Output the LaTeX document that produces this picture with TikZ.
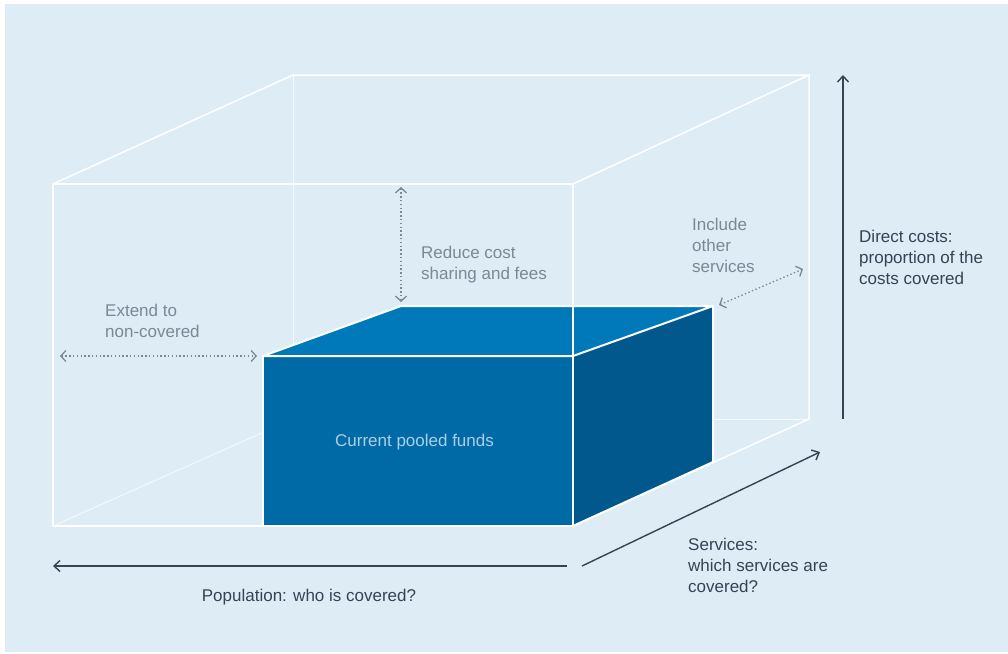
\documentclass[tikz,border=0pt]{standalone}
\usepackage{fontspec}
\setmainfont{Liberation Sans}
\usetikzlibrary{arrows.meta}
\definecolor{panel}{RGB}{222,236,246}
\definecolor{frontc}{RGB}{0,106,166}
\definecolor{topc}{RGB}{0,121,186}
\definecolor{sidec}{RGB}{0,88,141}
\definecolor{greyc}{RGB}{122,137,150}
\definecolor{darkc}{RGB}{52,68,84}
\definecolor{labc}{RGB}{172,206,230}
\tikzset{
  hid/.style={draw=white, line width=0.9pt, opacity=0.75},
  edge/.style={draw=white, line width=1.5pt, line join=round},
  boxedge/.style={draw=white, line width=2pt, line join=round},
  dotarrow/.style={draw=greyc, line width=1.3pt, dash pattern=on 1.4pt off 2.4pt,
     {Straight Barb[length=5pt,width=11pt]}-{Straight Barb[length=5pt,width=11pt]}},
  axis/.style={draw=darkc, line width=1.4pt, -{Straight Barb[length=6pt,width=11pt]}},
  greytxt/.style={text=greyc, font=\fontsize{17}{21}\selectfont, inner sep=0pt, align=left},
  darktxt/.style={text=darkc, font=\fontsize{17}{21}\selectfont, inner sep=0pt, align=left},
}
\begin{document}
\begin{tikzpicture}[x=1pt,y=-1pt]
\useasboundingbox (0,0) rectangle (1008,653);
\fill[white] (0,0) rectangle (1008,653);
\fill[panel] (5,4) rectangle (1008,652);
% outer box corners
\coordinate (F1) at (53,184);
\coordinate (F2) at (573,184);
\coordinate (F3) at (573,526);
\coordinate (F4) at (53,526);
\coordinate (B1) at (293,75);
\coordinate (B2) at (809,75);
\coordinate (B3) at (809,419);
\coordinate (B4) at (293,419);
% inner box corners
\coordinate (i1) at (263,356);
\coordinate (i2) at (573,356);
\coordinate (i3) at (573,526);
\coordinate (i4) at (263,526);
\coordinate (j1) at (401,306);
\coordinate (j2) at (713,306);
\coordinate (j3) at (713,462);
% hidden edges
\draw[hid] (B1) -- (B4) -- (B3);
\draw[hid] (F4) -- (B4);
% inner box
\fill[topc] (i1) -- (j1) -- (j2) -- (i2) -- cycle;
\fill[sidec] (i2) -- (j2) -- (j3) -- (i3) -- cycle;
\fill[frontc] (i1) rectangle (i3);
\draw[boxedge] (i1) -- (j1) -- (j2) -- (i2) -- cycle;
\draw[boxedge] (j2) -- (j3) -- (i3);
\draw[boxedge] (i1) rectangle (i3);
% outer visible edges
\draw[edge] (F1) rectangle (F3);
\draw[edge] (F1) -- (B1) -- (B2) -- (B3) -- (F3);
\draw[edge] (F2) -- (B2);
\node[text=labc, font=\fontsize{17}{21}\selectfont, inner sep=0pt, anchor=base] (pool) at (414.5,446) {Current pooled funds};
% dotted arrows
\coordinate (d1a) at (401,187);
\coordinate (d1b) at (401,302);
\coordinate (d2a) at (60,356);
\coordinate (d2b) at (257,356);
\coordinate (d3a) at (719,305);
\coordinate (d3b) at (803,269);
\draw[dotarrow] (d1a) -- (d1b);
\draw[dotarrow] (d2a) -- (d2b);
\draw[dotarrow] (d3a) -- (d3b);
% multi-line nodes: base anchor is the last line's baseline
\node[greytxt, anchor=base west] (reduce) at (421,279) {Reduce cost\\sharing and fees};
\node[greytxt, anchor=base west] (extend) at (105,337) {Extend to\\non-covered};
\node[greytxt, anchor=base west] (include) at (692,272) {Include\\other\\services};
% axes
\coordinate (vA) at (843,419);
\coordinate (vB) at (843,75);
\coordinate (hA) at (567,566);
\coordinate (hB) at (53,566);
\coordinate (dA) at (582,566);
\coordinate (dB) at (820,452);
\draw[axis] (vA) -- (vB);
\draw[axis] (hA) -- (hB);
\draw[axis] (dA) -- (dB);
\node[darktxt, anchor=base west] (direct) at (859,284) {Direct costs:\\proportion of the\\costs covered};
\node[darktxt, anchor=base] (popul) at (309,601) {Population: who is covered?};
\node[darktxt, anchor=base west] (serv) at (688,592) {Services:\\which services are\\covered?};
\end{tikzpicture}
\end{document}
